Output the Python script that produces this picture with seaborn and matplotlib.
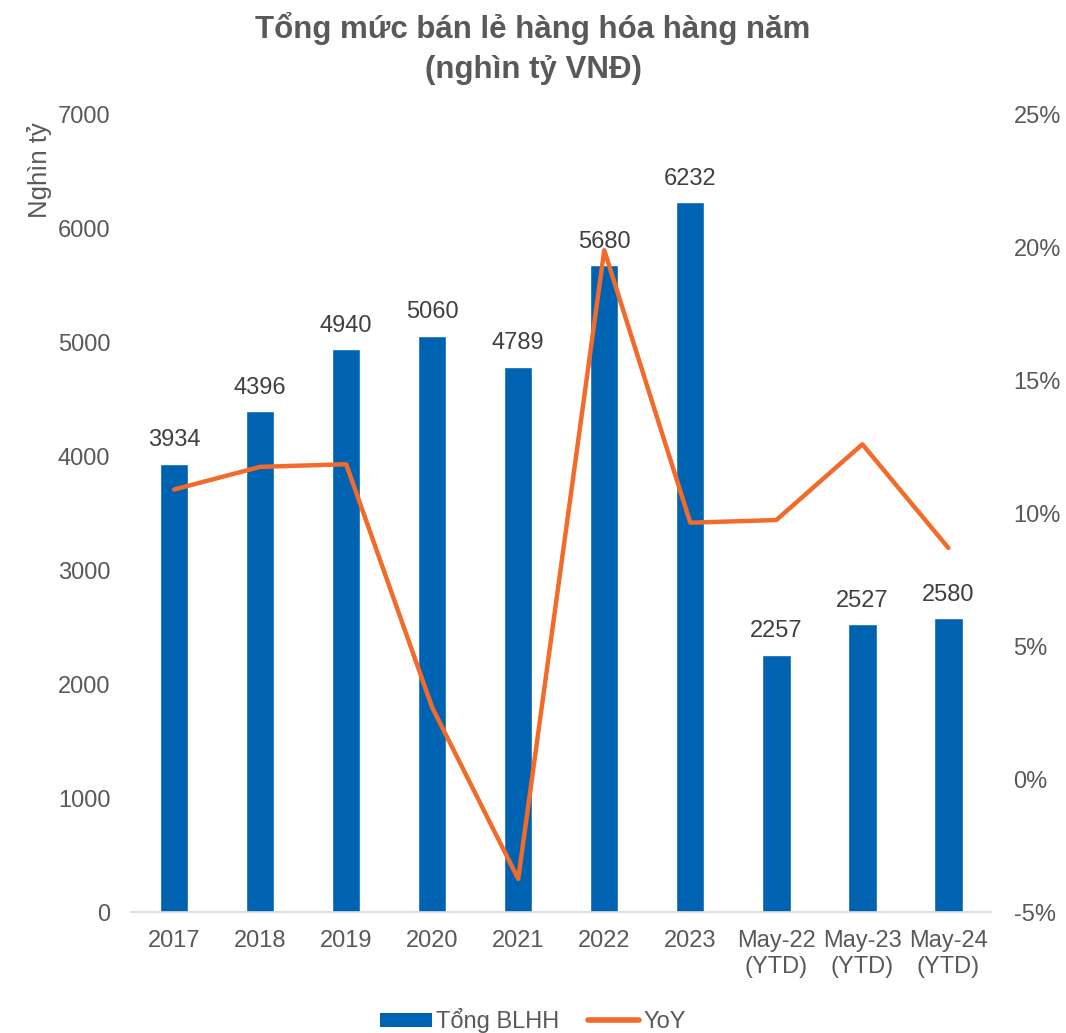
import matplotlib
matplotlib.use("Agg")
import matplotlib.pyplot as plt
import seaborn as sns
import pandas as pd
from matplotlib.patches import Patch
from matplotlib.lines import Line2D
from matplotlib.ticker import FuncFormatter

categories = ["2017", "2018", "2019", "2020", "2021", "2022", "2023",
              "May-22\n(YTD)", "May-23\n(YTD)", "May-24\n(YTD)"]
total_retail = [3934, 4396, 4940, 5060, 4789, 5680, 6232, 2257, 2527, 2580]
yoy_pct = [10.9, 11.75, 11.85, 2.7, -3.75, 19.9, 9.65, 9.75, 12.6, 8.7]

BAR_COLOR = "#0063B1"
LINE_COLOR = "#F26B2A"
TEXT_COLOR = "#595959"
FS = 17

sns.set_theme(style="white")
plt.rcParams["font.family"] = ["Liberation Sans", "DejaVu Sans"]

df = pd.DataFrame({"cat": categories, "total": total_retail, "yoy": yoy_pct})

fig = plt.figure(figsize=(10.66, 10.33), dpi=100)
ax = fig.add_axes([0.123, 0.117, 0.807, 0.772])

sns.barplot(data=df, x="cat", y="total", color=BAR_COLOR, width=0.33,
            saturation=1, ax=ax, order=categories)
ax.set_ylim(0, 7000)
ax.set_xlim(-0.5, len(categories) - 0.5)
ax.set_yticks(range(0, 7001, 1000))
ax.set_xlabel("")
ax.set_ylabel("Nghìn tỷ", fontsize=18.5, color=TEXT_COLOR)
ax.yaxis.set_label_coords(-0.092, 0.93)
ax.tick_params(axis="y", labelsize=FS, colors=TEXT_COLOR, length=0, pad=15)
ax.tick_params(axis="x", labelsize=FS, colors=TEXT_COLOR, length=0, pad=13)
for s in ["top", "right", "left"]:
    ax.spines[s].set_visible(False)
ax.spines["bottom"].set_color("#D9D9D9")
ax.spines["bottom"].set_linewidth(1.2)

for i, v in enumerate(total_retail):
    ax.text(i, v + 110, f"{v}", ha="center", va="bottom",
            fontsize=FS, color="#404040")

ax2 = ax.twinx()
sns.lineplot(x=list(range(len(categories))), y=yoy_pct, color=LINE_COLOR,
             linewidth=3.2, ax=ax2, sort=False)
ax2.set_ylim(-5, 25)
ax2.set_yticks(range(-5, 26, 5))
ax2.yaxis.set_major_formatter(FuncFormatter(lambda v, p: f"{int(v)}%"))
ax2.tick_params(axis="y", labelsize=FS, colors=TEXT_COLOR, length=0, pad=16)
for s in ["top", "right", "left", "bottom"]:
    ax2.spines[s].set_visible(False)
ax2.set_ylabel("")
ax2.set_xlim(-0.5, len(categories) - 0.5)

fig.text(0.5, 0.972, "Tổng mức bán lẻ hàng hóa hàng năm", ha="center",
         va="center", fontsize=22.5, fontweight="bold", color=TEXT_COLOR)
fig.text(0.5, 0.932, "(nghìn tỷ VNĐ)", ha="center", va="center",
         fontsize=22.5, fontweight="bold", color=TEXT_COLOR)

handles = [Patch(facecolor=BAR_COLOR, edgecolor="none"),
           Line2D([0], [0], color=LINE_COLOR, linewidth=4, solid_capstyle="round")]
fig.legend(handles, ["Tổng BLHH", "YoY"], loc="center", bbox_to_anchor=(0.5, 0.012),
           ncol=2, frameon=False, fontsize=FS, labelcolor=TEXT_COLOR,
           handlelength=2.2, handleheight=0.55, handletextpad=0.15,
           columnspacing=1.2, borderpad=0)

fig.savefig("out.png", dpi=100)
